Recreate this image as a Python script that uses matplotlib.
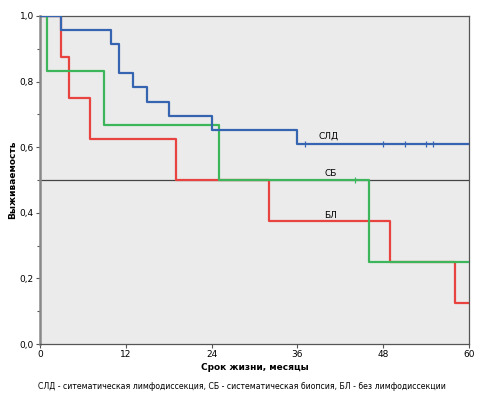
import matplotlib
matplotlib.use('Agg')
import matplotlib.pyplot as plt
from matplotlib.ticker import MultipleLocator, FuncFormatter

# Kaplan-Meier steps (months, survival)
sld_t = [0, 3, 10, 11, 13, 15, 18, 24, 36, 60]
sld_s = [1.0, 0.957, 0.913, 0.826, 0.783, 0.739, 0.696, 0.652, 0.609, 0.609]
sld_cens_t = [37, 48, 51, 54, 55]
sld_cens_s = [0.609, 0.609, 0.609, 0.609, 0.609]

sb_t = [0, 1, 9, 25, 46, 60]
sb_s = [1.0, 0.833, 0.667, 0.5, 0.25, 0.25]
sb_cens_t = [44]
sb_cens_s = [0.5]

bl_t = [0, 3, 4, 7, 19, 32, 49, 58, 60]
bl_s = [1.0, 0.875, 0.75, 0.625, 0.5, 0.375, 0.25, 0.125, 0.125]

BLUE = '#3565b0'
GREEN = '#3db55a'
RED = '#e8433f'
FRAME = '#555555'

fig = plt.figure(figsize=(4.84, 3.97), dpi=100)
ax = fig.add_axes([0.0826, 0.1335, 0.8864, 0.8265])
ax.set_facecolor('#ebebeb')

ax.axhline(0.5, color='#444444', lw=0.9, zorder=1)

ax.plot(bl_t, bl_s, drawstyle='steps-post', color=RED, lw=1.6, zorder=2)
ax.plot(sb_t, sb_s, drawstyle='steps-post', color=GREEN, lw=1.6, zorder=3)
ax.plot(sld_t, sld_s, drawstyle='steps-post', color=BLUE, lw=1.6, zorder=4)
ax.plot(sld_cens_t, sld_cens_s, ls='none', marker='|', ms=4, mew=0.9,
        color=BLUE, zorder=5)
ax.plot(sb_cens_t, sb_cens_s, ls='none', marker='|', ms=4, mew=0.9,
        color=GREEN, zorder=5)

ax.text(40.3, 0.633, 'СЛД', fontsize=6.5, ha='center', va='center')
ax.text(40.6, 0.52, 'СБ', fontsize=6.5, ha='center', va='center')
ax.text(40.6, 0.393, 'БЛ', fontsize=6.5, ha='center', va='center')

ax.set_xlim(0, 60)
ax.set_ylim(0, 1.0)
ax.xaxis.set_major_locator(MultipleLocator(12))
ax.yaxis.set_major_locator(MultipleLocator(0.2))
ax.yaxis.set_minor_locator(MultipleLocator(0.1))
ax.yaxis.set_major_formatter(FuncFormatter(lambda v, p: f'{v:.1f}'.replace('.', ',')))
ax.tick_params(labelsize=6.5, length=3, width=0.8, color=FRAME, pad=1.5)
ax.tick_params(axis='y', which='minor', length=2, width=0.8, color=FRAME)

for s in ax.spines.values():
    s.set_color(FRAME)
    s.set_linewidth(0.9)
ax.spines['left'].set_linewidth(1.8)
ax.spines['left'].set_color('#888888')

ax.set_xlabel('Срок жизни, месяцы', fontsize=6.5, fontweight='bold', labelpad=3)
ax.set_ylabel('Выживаемость', fontsize=6.5, fontweight='bold', labelpad=2)

fig.text(0.5, 0.027, 'СЛД - ситематическая лимфодиссекция, СБ - систематическая биопсия, БЛ - без лимфодиссекции',
         fontsize=5.6, ha='center', va='center')

fig.savefig('out.png', dpi=100, facecolor='white')
